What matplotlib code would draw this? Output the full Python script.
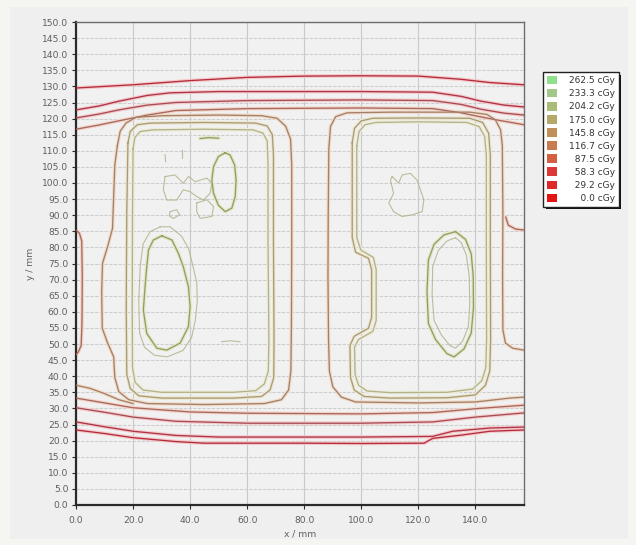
import matplotlib
matplotlib.use("Agg")
import matplotlib.pyplot as plt
from matplotlib.patches import Patch, Rectangle

# ---------------- isodose levels ----------------
levels = [262.5, 233.3, 204.2, 175.0, 145.8, 116.7, 87.5, 58.3, 29.2, 0.0]
legend_colors = ["#8ee08e", "#a0c88a", "#a9bc78", "#b5a868", "#c09058",
                 "#c87a50", "#d06040", "#dc3838", "#e02828", "#e41414"]
line_colors = {262.5: "#70c070", 233.3: "#959e62", 204.2: "#b3b28e",
               175.0: "#a89c78", 145.8: "#a58068", 116.7: "#a8685e",
               87.5: "#a84c54", 58.3: "#ae3446", 29.2: "#b42c3c", 0.0: "#c01020"}
halo_colors = {233.3: "#e4e6c8", 204.2: "#ededd8", 175.0: "#ede6cf",
               145.8: "#f0dccb", 116.7: "#f2d4c8", 87.5: "#f3cccc",
               58.3: "#f3c8ca", 29.2: "#f4c8ca"}

x_ticks = [0, 20, 40, 60, 80, 100, 120, 140]
y_ticks = [5 * i for i in range(31)]

# ---------------- contour paths (mm) ----------------
# upper dose fall-off band
top_29_x = [0, 20, 40, 60, 80, 100, 120, 135, 145, 157]
top_29_y = [129.5, 130.5, 131.8, 132.8, 133.2, 133.3, 133.2, 132.2, 131.2, 130.5]
top_58_x = [0, 8, 15, 25, 33, 50, 80, 100, 125, 135, 142, 150, 157]
top_58_y = [122.7, 123.9, 125.4, 127.2, 128, 128.4, 128.4, 128.4, 128.2, 126.9, 125.4, 124.2, 123.6]
top_87_x = [0, 8, 15, 25, 35, 60, 100, 125, 135, 142, 150, 157]
top_87_y = [120.2, 121.4, 122.7, 124.2, 125, 125.6, 125.8, 125.6, 124.4, 122.9, 121.7, 121.1]
top_117_x = [0, 8, 15, 25, 35, 60, 100, 125, 135, 142, 148, 157]
top_117_y = [116.7, 118, 119.3, 121.1, 122.5, 123.1, 123.3, 123.1, 121.8, 120.5, 119.5, 118.1]

# lower dose fall-off band
bot_29_x = [0, 10, 20, 35, 45, 80, 100, 122, 125, 135, 145, 157]
bot_29_y = [23.3, 22.2, 20.9, 19.7, 19.2, 19.2, 19.1, 19.2, 20.7, 21.7, 22.9, 23.3]
bot_58_x = [0, 10, 20, 35, 50, 100, 125, 132, 145, 157]
bot_58_y = [25.8, 24.3, 22.9, 21.6, 21.1, 21.1, 21.3, 22.9, 23.9, 24.2]
bot_87_x = [0, 10, 20, 35, 60, 100, 125, 140, 157]
bot_87_y = [30.2, 28.8, 27.3, 26, 25.4, 25.4, 25.8, 27.3, 28.6]
bot_117_x = [0, 10, 20, 40, 60, 100, 125, 140, 157]
bot_117_y = [33.2, 31.7, 30.2, 28.9, 28.5, 28.3, 28.7, 29.9, 31]
bot_146_x = [0, 5, 10, 15, 20]
bot_146_y = [37.2, 36.2, 34.6, 32.7, 31.5]

# edge pieces
edge_left_x = [0, 1.2, 2, 2.2, 2.1, 1.8, 0.8, 0]
edge_left_y = [85.4, 84.4, 82, 71.1, 56.4, 49.5, 47.5, 46.7]
edge_right_x = [157, 154, 151.5, 150.6]
edge_right_y = [85.4, 85.7, 86.9, 89.4]

# left target
lbox_out_x = [14.5, 15.5, 17.5, 21, 30, 50, 65, 70.5, 73.5, 75.2, 75.6, 75.6, 75.5, 75.3, 74.5, 72,
              66, 45, 25, 18.5, 15, 13.6, 13.2, 11, 9.2, 9, 9.3, 11, 12.8, 13.2, 13.6, 14.5]
lbox_out_y = [111.6, 116.1, 118.6, 120.4, 120.9, 121.1, 120.9, 120.1, 117.6, 113.6, 105.6, 81, 56.4,
              41.6, 35.7, 32.7, 31.5, 31.2, 31.5, 32.7, 35.2, 39.6, 46, 50.5, 54.9, 66.2, 75.1, 80,
              85.9, 95.8, 105.6, 111.6]
lbox_mid_x = [18.2, 19, 21.5, 26, 45, 63, 67, 68.8, 69.2, 69.2, 69.4, 69.3, 68, 65, 55, 30, 22, 19,
              17.8, 17.6, 17.8, 18.2]
lbox_mid_y = [112.5, 116, 118.1, 118.6, 118.8, 118.6, 117.7, 115, 108.6, 81, 51.4, 39.6, 35.7, 33.7,
              33.2, 33.2, 33.9, 36.2, 40.6, 61.3, 90.9, 112.5]
lbox_in_x = [20, 20.6, 22.5, 27, 45, 62, 65.5, 67, 67.3, 67.3, 67.6, 67.4, 66, 63, 55, 30, 23.5,
             20.7, 19.8, 19.7, 19.8, 20]
lbox_in_y = [110.6, 114.1, 116, 116.5, 116.7, 116.5, 115.5, 113.1, 105.6, 81, 51.4, 41.6, 37.6, 35.5,
             35, 35, 35.7, 38.1, 42.6, 61.3, 90.9, 110.6]

# right target
rbox_out_x = [157, 153, 150.5, 149.6, 149.5, 149.6, 149.4, 148.8, 147, 144, 138, 110, 95, 91, 89.2,
              88.6, 88.4, 88.3, 88.5, 88.8, 90, 93, 98, 120, 140, 147, 152, 157]
rbox_out_y = [48.1, 48.7, 50.3, 54.4, 71.2, 90.9, 111.6, 116.5, 119.6, 121.3, 122, 122, 121.8, 120.6,
              117.6, 110.6, 90.9, 71.2, 51.4, 41.6, 36.7, 33.5, 32, 31.7, 32, 32.7, 33.2, 33.5]
rbox_mid_x = [96.8, 97.6, 100, 104, 120, 138, 142.5, 144.6, 145.2, 145.2, 145.3, 145, 143.5, 140, 130,
              110, 101, 97.5, 96.2, 96, 97.5, 102.5, 103.6, 103.6, 102.5, 98, 96.8, 96.8]
rbox_mid_y = [112.5, 117, 119.3, 120.1, 120.2, 120.1, 118.8, 115.5, 108.6, 81, 51.4, 41.6, 37.2, 34.2,
              33.3, 33.2, 33.7, 35.7, 39.6, 49.5, 52.4, 54.9, 58.3, 73.1, 76.6, 78.5, 83, 112.5]
rbox_in_x = [98.4, 99.2, 101.3, 105, 120, 137, 141.3, 143.2, 143.8, 143.8, 143.9, 143.6, 142.2, 139,
             130, 110, 102, 99, 97.8, 97.6, 99, 104, 105.2, 105.2, 104.2, 99.8, 98.4, 98.4]
rbox_in_y = [111.6, 116, 118.1, 118.8, 119, 118.8, 117.5, 114.5, 108.6, 81, 51.4, 42.6, 38.6, 36, 35,
             34.9, 35.4, 37.2, 40.6, 49, 51.4, 53.9, 57.3, 73.1, 76.9, 79.2, 83, 111.6]

# high-dose islands
lisl_up_x = [52.3, 49.9, 48.2, 47.6, 48.2, 49.9, 52.3, 54.6, 55.8, 56.1, 55.6, 54, 52.3]
lisl_up_y = [109.4, 108.2, 105.1, 100.9, 96.8, 93.1, 91.1, 92.2, 95.8, 100.9, 105.6, 108.7, 109.4]
lisl_low_x = [30.1, 27.1, 25.4, 24.8, 24.2, 23.6, 24.8, 28.3, 31.8, 36.5, 39.4, 40, 39.4, 37.6, 35.9,
              33.6, 30.1]
lisl_low_y = [83.6, 82.3, 79.2, 74, 67.8, 60.5, 53.3, 48.7, 48.1, 50.3, 55.4, 61.6, 67.8, 74, 78.1,
              82.3, 83.6]
ldash_x = [43.5, 46.5, 50]
ldash_y = [113.8, 114.1, 113.9]
risl_x = [133, 129, 125.5, 123.5, 123, 123.5, 126, 130, 132.5, 136, 138.5, 139.3, 139.2, 138.5, 136.5, 133]
risl_y = [84.9, 83.9, 81, 76.1, 66.2, 56.4, 51.4, 47, 46, 48.5, 53.4, 61.3, 71.1, 78, 82.5, 84.9]

# faint 204 cGy fragments
lisl_halo_x = [29.5, 26, 23.5, 22.5, 22, 22.3, 24, 27.5, 32, 37.5, 40.5, 41.8, 42.5, 42.3, 41, 39.5,
               37, 33, 29.5]
lisl_halo_y = [86.4, 84.9, 81, 74.1, 63.3, 53.4, 49, 46.5, 46, 48, 52, 57.3, 63.3, 69.2, 74.1, 79.5,
               83.5, 86.4, 86.4]
lblob_a_x = [31.2, 34.7, 37.6, 39.4, 41.8, 43.5, 45.9, 47.6, 47, 44.7, 42.3, 40, 37.6, 35.3, 31.8, 30.6, 31.2]
lblob_a_y = [102, 102.5, 99.9, 102, 100.4, 100.9, 101.5, 99.9, 96.8, 94.7, 95.8, 97.3, 97.9, 94.7, 94.7,
             97.9, 102]
lblob_b_x = [42.3, 45.9, 48.2, 47.6, 43.5, 42.3, 42.3]
lblob_b_y = [93.8, 94.8, 92.7, 89.6, 89, 91.1, 93.8]
lblob_c_x = [33, 35.3, 36.3, 34.1, 32.7, 33]
lblob_c_y = [91.1, 91.7, 90.1, 89, 89.8, 91.1]
lmark_a_x = [37.1, 37.1]
lmark_a_y = [110.3, 107.7]
lmark_b_x = [31.2, 31.4]
lmark_b_y = [108.8, 106.6]
ldash_low_x = [51, 54, 57.5]
ldash_low_y = [50.7, 51, 50.7]
rblob_x = [110.8, 113.1, 114.3, 117.2, 119.5, 120.7, 121.9, 121.3, 117.8, 114.3, 111.3, 109.6, 111.3,
           110.2, 110.8]
rblob_y = [102, 100, 102.5, 103, 100.9, 97.9, 94.7, 91.1, 90.1, 89.6, 91.1, 93.8, 96.8, 100.9, 102]
risl_in_x = [133, 130, 127, 125, 124.8, 125.5, 128, 131, 133, 135.5, 137.5, 138, 137.8, 136.8, 135, 133]
risl_in_y = [83, 82, 79.1, 74.1, 65.1, 57.3, 52.9, 49.5, 48.7, 50.9, 55.4, 62.3, 71.1, 77.6, 81.5, 83]

main_contours = [
    (29.2, top_29_x, top_29_y), (58.3, top_58_x, top_58_y),
    (87.5, top_87_x, top_87_y), (116.7, top_117_x, top_117_y),
    (29.2, bot_29_x, bot_29_y), (58.3, bot_58_x, bot_58_y),
    (87.5, bot_87_x, bot_87_y), (116.7, bot_117_x, bot_117_y),
    (145.8, bot_146_x, bot_146_y),
    (116.7, edge_left_x, edge_left_y), (116.7, edge_right_x, edge_right_y),
    (145.8, lbox_out_x, lbox_out_y), (175.0, lbox_mid_x, lbox_mid_y),
    (204.2, lbox_in_x, lbox_in_y),
    (145.8, rbox_out_x, rbox_out_y), (175.0, rbox_mid_x, rbox_mid_y),
    (204.2, rbox_in_x, rbox_in_y),
    (233.3, lisl_up_x, lisl_up_y), (233.3, lisl_low_x, lisl_low_y),
    (233.3, ldash_x, ldash_y), (233.3, risl_x, risl_y),
]
faint_contours = [
    (lisl_halo_x, lisl_halo_y), (lblob_a_x, lblob_a_y), (lblob_b_x, lblob_b_y),
    (lblob_c_x, lblob_c_y), (lmark_a_x, lmark_a_y), (lmark_b_x, lmark_b_y),
    (ldash_low_x, ldash_low_y), (rblob_x, rblob_y), (risl_in_x, risl_in_y),
]

# ---------------- figure ----------------
W, H = 636, 545
fig = plt.figure(figsize=(W / 100, H / 100), dpi=100, facecolor="#f5f5f2")
fig.patches.append(Rectangle((10 / W, 6 / H), 618 / W, 532 / H, transform=fig.transFigure,
                             facecolor="#efefef", edgecolor="none", zorder=-10))

ax = fig.add_axes([76 / W, 1 - 505 / H, 448 / W, 483 / H])
ax.set_facecolor("#f1f1f1")
ax.set_xlim(0, 157)
ax.set_ylim(0, 150)

# grid
for xv in x_ticks:
    ax.axvline(xv, color="#c9c9c9", lw=0.8, zorder=0)
for yv in y_ticks:
    ax.axhline(yv, color="#cdcdcd", lw=0.8, ls=(0, (3, 1.2)), zorder=0)

# isodose lines: light halo under a thin darker core
for lvl, xs, ys in main_contours:
    ax.plot(xs, ys, color=halo_colors[lvl], lw=2.6, solid_capstyle="round", zorder=2)
for lvl, xs, ys in main_contours:
    ax.plot(xs, ys, color=line_colors[lvl], lw=0.95, zorder=3)
for xs, ys in faint_contours:
    ax.plot(xs, ys, color=line_colors[204.2], lw=0.8, alpha=0.85, zorder=3)

# axes styling
ax.set_xticks(x_ticks)
ax.set_xticklabels([f"{v:.1f}" for v in x_ticks])
ax.set_yticks(y_ticks)
ax.set_yticklabels([f"{v:.1f}" for v in y_ticks])
ax.tick_params(axis="both", labelsize=6.6, colors="#2a2a2a", labelcolor="#5e5e5e",
               length=3, width=0.8)
ax.tick_params(axis="x", pad=5)
ax.tick_params(axis="y", pad=2.5)
for side in ("left", "bottom"):
    ax.spines[side].set_color("#2a2a2a")
    ax.spines[side].set_linewidth(1.6)
for side in ("top", "right"):
    ax.spines[side].set_color("#6e6e6e")
    ax.spines[side].set_linewidth(1.0)
ax.set_xlabel("x / mm", fontsize=6.6, color="#5e5e5e", labelpad=3)
ax.set_ylabel("y / mm", fontsize=6.6, color="#5e5e5e", labelpad=5)

# legend
fs = "\u2007"
labels = []
for lv in levels:
    s = f"{lv:.1f}"
    labels.append(fs * (5 - len(s)) + s + " cGy")
handles = [Patch(facecolor=c, edgecolor="none") for c in legend_colors]
leg = ax.legend(handles, labels, loc="upper left", bbox_to_anchor=(543 / W, 1 - 72 / H),
                bbox_transform=fig.transFigure, fontsize=6.5, frameon=True, fancybox=False,
                edgecolor="#222222", facecolor="white", framealpha=1,
                handlelength=1.1, handleheight=1.05, handletextpad=1.3,
                labelspacing=0.42, borderpad=0.45, borderaxespad=0)
for t in leg.get_texts():
    t.set_color("#333333")
leg.get_frame().set_linewidth(1.0)

# drop shadow along the right and bottom of the legend box
fig.canvas.draw()
bb = leg.get_window_extent()
sh = Rectangle((bb.x0 + 2.5, bb.y0 - 2.5), bb.width, bb.height, transform=None,
               facecolor="#111111", edgecolor="none", zorder=4)
ax.add_artist(sh)
sh.set_clip_on(False)

fig.savefig("out.png", dpi=100, facecolor=fig.get_facecolor())
